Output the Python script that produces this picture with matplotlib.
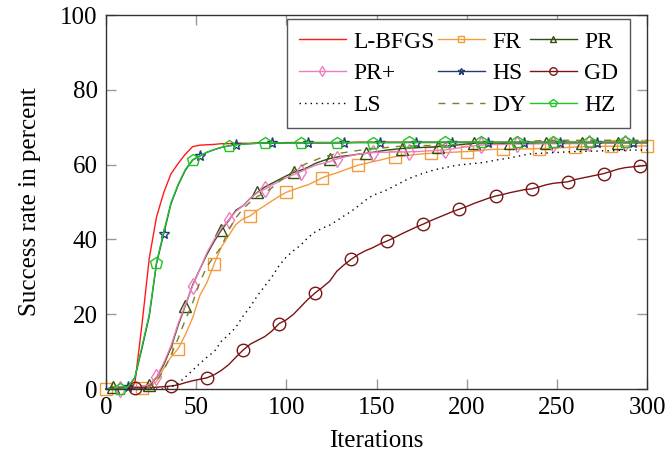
import numpy as np
import matplotlib
matplotlib.use('Agg')
import matplotlib.pyplot as plt

plt.rcParams['font.family'] = 'Liberation Serif'
plt.rcParams['font.size'] = 18

# Iteration grid (every 4 iterations)
iters = list(range(0, 301, 4))

lbfgs = [0, 0, 0, 0, 1.5, 17.5, 35, 46, 52.5, 57.5, 60.3, 62.8, 64.8,
         65.2, 65.3, 65.4, 65.6, 65.6, 65.7, 65.7, 65.7, 65.8, 65.8, 65.8, 65.8, 65.9,
         65.9, 65.9, 65.9, 65.9, 65.9, 65.9, 65.9, 65.9, 65.9, 66.0, 66.0, 66.0, 66.0,
         66.0, 66.0, 66.0, 66.0, 66.0, 66.0, 66.0, 66.0, 66.0, 66.0, 66.0, 66.0, 66.0,
         66.0, 66.0, 66.0, 66.0, 66.0, 66.0, 66.0, 66.0, 66.0, 66.0, 66.0, 66.0, 66.0,
         66.0, 66.0, 66.0, 66.0, 66.0, 66.0, 66.0, 66.0, 66.0, 66.0, 66.0]

fr = [0, 0, 0, 0, 0, 0.2, 1, 2, 5.5, 8.5, 10.8, 14.5, 19,
      25, 28.5, 33.5, 38, 41, 44, 45.5, 46.3, 47.8, 49, 50.3, 51.5, 52.6,
      53.3, 54, 54.6, 55.5, 56.5, 57.2, 57.8, 58.5, 59.2, 59.9, 60.3, 60.8, 61.2,
      61.7, 62.1, 62.3, 62.5, 62.7, 62.9, 63.0, 63.1, 63.2, 63.3, 63.4, 63.5, 63.6,
      63.8, 64.0, 64.1, 64.1, 64.1, 64.2, 64.2, 64.2, 64.3, 64.3, 64.4, 64.5, 64.6,
      64.7, 64.8, 64.8, 64.8, 64.9, 64.9, 64.9, 65.0, 65.0, 65.0, 65.0]

pr = [0, 0.5, 0.5, 0.5, 0.5, 0.7, 1, 3, 6.5, 11, 17, 22.3, 27.8,
      32, 36, 39.5, 42.5, 45, 47.8, 49, 51, 52.6, 54, 55, 56, 57,
      57.9, 58.5, 59.3, 60.3, 61, 61.6, 62, 62.3, 62.5, 62.8, 63, 63.3, 63.6,
      63.9, 64.1, 64.3, 64.4, 64.5, 64.6, 64.7, 64.8, 65.0, 65.1, 65.3, 65.5, 65.7,
      65.7, 65.7, 65.7, 65.7, 65.7, 65.7, 65.7, 65.7, 65.7, 65.8, 65.8, 65.8, 65.8,
      65.8, 65.8, 65.8, 65.8, 65.8, 65.8, 65.8, 65.8, 65.8, 65.8, 65.8]

pr_plus = [0, 0, 0, 0, 0.5, 0.7, 1.2, 3.2, 7, 11.5, 17.5, 22.5, 27.5,
           32, 36.5, 40, 43, 45.2, 47.5, 49, 51, 52.5, 53.4, 54.5, 55.5, 56.5,
           57.3, 58.1, 59, 59.8, 60.3, 60.8, 61.5, 62, 62.4, 62.8, 63, 63.2, 63.3,
           63.3, 63.4, 63.4, 63.4, 63.5, 63.6, 63.7, 63.8, 63.9, 64.2, 64.5, 64.8, 65.0,
           65.2, 65.3, 65.4, 65.4, 65.5, 65.5, 65.5, 65.5, 65.6, 65.6, 65.6, 65.6, 65.6,
           65.6, 65.6, 65.7, 65.7, 65.7, 65.7, 65.7, 65.7, 65.7, 65.7, 65.7]

hs = [0, 0, 0, 0.5, 3, 11, 19.5, 33.5, 41.5, 49.5, 54.5, 58.5, 61.2,
      62.3, 63.3, 64, 64.6, 65, 65.3, 65.5, 65.6, 65.7, 65.8, 65.8, 65.8, 65.8,
      65.8, 65.8, 65.8, 65.8, 65.8, 65.8, 65.8, 65.9, 65.9, 65.9, 65.9, 65.9, 65.9,
      65.9, 65.9, 65.9, 65.9, 65.9, 65.9, 65.9, 65.9, 65.9, 65.9, 65.9, 65.9, 65.9,
      65.9, 65.9, 65.9, 65.9, 65.9, 65.9, 65.9, 65.9, 65.9, 65.9, 65.9, 65.9, 65.9,
      65.9, 65.9, 65.9, 65.9, 65.9, 65.9, 65.9, 65.9, 65.9, 65.9, 65.9]

gd = [0, 0, 0, 0, 0.3, 0.3, 0.3, 0.5, 0.6, 0.8, 1.1, 1.7, 2.2,
      2.6, 3, 3.8, 5, 6.5, 8.5, 10.4, 12, 13, 14, 15.5, 17.5, 18.5,
      20, 22, 24, 25.7, 27.2, 28.8, 31.5, 33.2, 34.7, 36, 37, 37.8, 38.8,
      39.6, 40.5, 41.5, 42.4, 43.3, 44.1, 45, 45.8, 46.6, 47.4, 48.1, 48.8, 49.6,
      50.3, 51, 51.6, 52, 52.5, 52.9, 53.3, 53.5, 54, 54.6, 55, 55.2, 55.4,
      56, 56.4, 56.8, 57.2, 57.6, 58.2, 58.8, 59.2, 59.4, 59.6, 59.8]

ls = [0, 0, 0, 0, 0, 0, 0, 0, 0, 0.5, 1.5, 3.2, 5,
      6.8, 8.5, 10, 12.8, 14.5, 16.5, 19.5, 22, 25, 27.5, 30, 33, 35.3,
      37, 38.5, 40.5, 42, 43, 43.8, 45, 46.3, 47.5, 49, 50.5, 51.8, 52.5,
      53.3, 54.3, 55.3, 56.3, 57, 57.7, 58.3, 58.8, 59.2, 59.6, 59.9, 60.1, 60.3,
      60.5, 60.8, 61.2, 61.5, 61.8, 62.2, 62.6, 62.9, 63, 63.1, 63.2, 63.3, 63.4,
      63.5, 63.5, 63.6, 63.6, 63.7, 63.7, 63.8, 63.8, 63.9, 63.9, 63.9]

dy = [0, 0, 0, 0, 0, 0, 0.5, 2, 5, 9, 13.5, 18.5, 23,
      28.5, 32.8, 35.5, 38, 42.5, 45.8, 48.2, 50, 51.5, 52.5, 53.8, 55.5, 57,
      58.3, 59.5, 60.5, 61.2, 62, 62.5, 62.9, 63.2, 63.5, 63.8, 64, 64.2, 64.4,
      64.6, 64.8, 64.9, 65, 65, 65.1, 65.1, 65.2, 65.2, 65.3, 65.3, 65.4, 65.5,
      65.6, 65.7, 65.8, 65.9, 66, 66.1, 66.2, 66.3, 66.4, 66.5, 66.5, 66.5, 66.5,
      66.5, 66.5, 66.5, 66.5, 66.5, 66.5, 66.5, 66.5, 66.5, 66.5, 66.5]

hz = [0, 0, 0, 0.5, 3, 11.5, 20, 33.8, 42, 49.8, 54.7, 58.7, 61.3,
      62.3, 63.3, 64, 64.6, 65, 65.3, 65.5, 65.6, 65.7, 65.8, 65.8, 65.8, 65.8,
      65.8, 65.8, 65.9, 65.9, 65.9, 65.9, 65.9, 65.9, 65.9, 65.9, 65.9, 65.9, 65.9,
      65.9, 65.9, 65.9, 66.0, 66.0, 66.0, 66.0, 66.0, 66.0, 66.0, 66.0, 66.0, 66.0,
      66.0, 66.0, 66.0, 66.0, 66.0, 66.0, 66.0, 66.0, 66.0, 66.0, 66.0, 66.0, 66.0,
      66.0, 66.0, 66.0, 66.0, 66.0, 66.0, 66.0, 66.0, 66.0, 66.0, 66.0]

fig = plt.figure(figsize=(6.65, 4.59), dpi=100)
ax = fig.add_axes([0.1594, 0.1525, 0.8136, 0.8148])

lw = 1.0
ms = 8
common = dict(lw=lw, markerfacecolor='none', clip_on=False)

h = {}
h['L-BFGS'], = ax.plot(iters, lbfgs, color='#ff1a1a', label='L-BFGS', **common)
h['FR'], = ax.plot(iters, fr, color='#f39c3c', marker='s', ms=ms, markevery=(0, 5), label='FR', **common)
h['PR'], = ax.plot(iters, pr, color='#2f4f10', marker='^', ms=ms, markevery=(1, 5), label='PR', **common)
h['PR+'], = ax.plot(iters, pr_plus, color='#f07cc0', marker='d', ms=ms, markevery=(2, 5), label='PR+', **common)
h['HS'], = ax.plot(iters, hs, color='#1f3c73', marker='*', ms=ms, markevery=(3, 5), label='HS', **common)
h['GD'], = ax.plot(iters, gd, color='#7a1515', marker='o', ms=ms + 1, markevery=(4, 5), label='GD', **common)
h['LS'], = ax.plot(iters, ls, color='black', ls=(0, (1, 3)), label='LS', **common)
h['DY'], = ax.plot(iters, dy, color='#7d7d30', ls=(0, (5, 5)), label='DY', **common)
h['HZ'], = ax.plot(iters, hz, color='#22c422', marker='p', ms=ms + 1, markevery=(2, 5), label='HZ', **common)

ax.set_xlim(0, 300)
ax.set_ylim(0, 100)
ax.set_xticks([0, 50, 100, 150, 200, 250, 300])
ax.set_yticks([0, 20, 40, 60, 80, 100])
ax.tick_params(direction='in', length=7, width=1, color='#999999', pad=6,
               top=True, right=True)
for s in ax.spines.values():
    s.set_color('#333333')
    s.set_linewidth(1)

ax.set_xlabel('Iterations', labelpad=8)
ax.set_ylabel('Success rate in percent', labelpad=14)

# matplotlib fills legend column by column
order = ['L-BFGS', 'PR+', 'LS', 'FR', 'HS', 'DY', 'PR', 'GD', 'HZ']
leg = ax.legend([h[k] for k in order], order, ncol=3, loc='upper right',
                bbox_to_anchor=(0.9686, 0.9885), borderaxespad=0,
                fancybox=False, framealpha=1, edgecolor='#555555', fontsize=17,
                handlelength=2.0, handletextpad=0.3, columnspacing=0.15,
                labelspacing=0.43, borderpad=0.5, markerscale=0.6)
leg.get_frame().set_linewidth(1)

fig.savefig('out.png', dpi=100)
